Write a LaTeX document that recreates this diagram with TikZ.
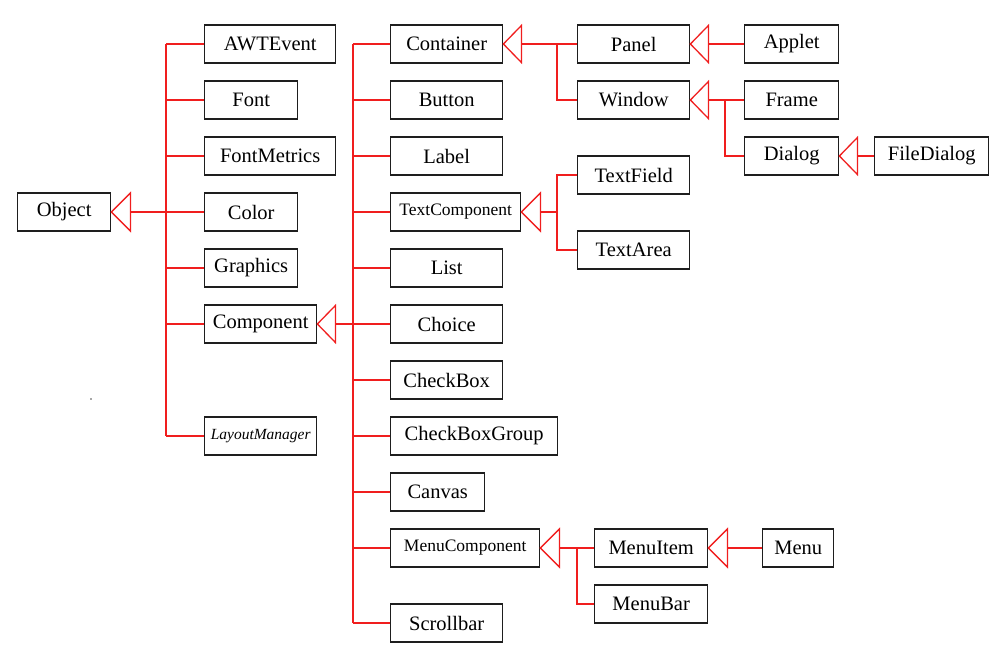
\documentclass[tikz,border=0pt]{standalone}
\usepackage{fontspec}
\setmainfont{Liberation Serif}
\usetikzlibrary{calc}
\definecolor{lred}{RGB}{240,30,30}
\definecolor{bbox}{RGB}{30,30,30}
\tikzset{
  box/.style={draw=bbox, line width=1.4pt, minimum height=38pt, inner sep=0pt, anchor=west, font=\fontsize{20.5}{24}\selectfont},
  sbox/.style={box, font=\fontsize{17.5}{20}\selectfont},
  conn/.style={draw=lred, line width=1.3pt},
  tri/.style={draw=lred, line width=1.3pt, line join=miter}
}
\begin{document}
\begin{tikzpicture}[x=1pt,y=-1pt]
\useasboundingbox (0,0) rectangle (1002,653);
% column 1
\node[box, minimum width=93pt] (obj) at (17,212) {Object};
% column 2
\node[box, minimum width=131pt] (awt) at (204,44) {AWTEvent};
\node[box, minimum width=93pt] (font) at (204,100) {Font};
\node[box, minimum width=131pt] (fontm) at (204,156) {FontMetrics};
\node[box, minimum width=93pt] (color) at (204,212) {Color};
\node[box, minimum width=93pt] (graphics) at (204,268) {Graphics};
\node[box, minimum width=112pt] (comp) at (204,324) {Component};
\node[box, minimum width=112pt, font=\fontsize{15.5}{18}\selectfont\itshape] (layout) at (204,436) {LayoutManager};
% column 3
\node[box, minimum width=112pt] (container) at (390,44) {Container};
\node[box, minimum width=112pt] (button) at (390,100) {Button};
\node[box, minimum width=112pt] (label) at (390,156) {Label};
\node[sbox, minimum width=130pt] (textc) at (390,212) {TextComponent};
\node[box, minimum width=112pt] (list) at (390,268) {List};
\node[box, minimum width=112pt] (choice) at (390,324) {Choice};
\node[box, minimum width=112pt] (checkbox) at (390,380) {CheckBox};
\node[box, minimum width=167pt] (cbg) at (390,436) {CheckBoxGroup};
\node[box, minimum width=94pt] (canvas) at (390,492) {Canvas};
\node[sbox, minimum width=149pt] (menuc) at (390,548) {MenuComponent};
\node[box, minimum width=112pt] (scroll) at (390,623) {Scrollbar};
% column 4
\node[box, minimum width=112pt] (panel) at (577,44) {Panel};
\node[box, minimum width=112pt] (window) at (577,100) {Window};
\node[box, minimum width=112pt] (textfield) at (577,175) {TextField};
\node[box, minimum width=112pt] (textarea) at (577,250) {TextArea};
\node[box, minimum width=113pt] (menuitem) at (594,548) {MenuItem};
\node[box, minimum width=113pt] (menubar) at (594,604) {MenuBar};
% column 5
\node[box, minimum width=94pt] (applet) at (744,44) {Applet};
\node[box, minimum width=94pt] (frame) at (744,100) {Frame};
\node[box, minimum width=94pt] (dialog) at (744,156) {Dialog};
\node[box, minimum width=71pt] (menu) at (762,548) {Menu};
\node[box, minimum width=114pt] (filedialog) at (874,156) {FileDialog};

% buses
\coordinate (b1) at (166,0);
\coordinate (b2) at (353,0);
\coordinate (b3) at (557,0);
\coordinate (b4) at (725,0);
\coordinate (b5) at (577,0);

% Object group
\draw[tri] (obj.east) -- ++(19,-19) -- ++(0,38) -- cycle;
\draw[conn] ($(obj.east)+(19,0)$) -- (color.west);
\draw[conn] (awt.west -| b1) -- (layout.west -| b1);
\foreach \n in {awt,font,fontm,graphics,comp,layout}
  \draw[conn] (\n.west) -- (\n.west -| b1);

% Component group
\draw[tri] (comp.east) -- ++(18,-18.5) -- ++(0,37) -- cycle;
\draw[conn] ($(comp.east)+(18,0)$) -- (choice.west);
\draw[conn] (container.west -| b2) -- (scroll.west -| b2);
\foreach \n in {container,button,label,textc,list,checkbox,cbg,canvas,menuc,scroll}
  \draw[conn] (\n.west) -- (\n.west -| b2);

% Container group
\draw[tri] (container.east) -- ++(18,-18.5) -- ++(0,37) -- cycle;
\draw[conn] ($(container.east)+(18,0)$) -- (panel.west);
\draw[conn] (panel.west -| b3) -- (window.west -| b3) -- (window.west);

% TextComponent group
\draw[tri] (textc.east) -- ++(19,-19) -- ++(0,38) -- cycle;
\draw[conn] ($(textc.east)+(19,0)$) -- (textc.east -| b3);
\draw[conn] (textfield.west) -- (textfield.west -| b3) -- (textarea.west -| b3) -- (textarea.west);

% Panel -> Applet
\draw[tri] (panel.east) -- ++(18,-18.5) -- ++(0,37) -- cycle;
\draw[conn] ($(panel.east)+(18,0)$) -- (applet.west);

% Window group
\draw[tri] (window.east) -- ++(18,-18.5) -- ++(0,37) -- cycle;
\draw[conn] ($(window.east)+(18,0)$) -- (frame.west);
\draw[conn] (frame.west -| b4) -- (dialog.west -| b4) -- (dialog.west);

% Dialog -> FileDialog
\draw[tri] (dialog.east) -- ++(18,-18.5) -- ++(0,37) -- cycle;
\draw[conn] ($(dialog.east)+(18,0)$) -- (filedialog.west);

% MenuComponent group
\draw[tri] (menuc.east) -- ++(19,-19) -- ++(0,38) -- cycle;
\draw[conn] ($(menuc.east)+(19,0)$) -- (menuitem.west);
\draw[conn] (menuitem.west -| b5) -- (menubar.west -| b5) -- (menubar.west);

% MenuItem -> Menu
\draw[tri] (menuitem.east) -- ++(19,-19) -- ++(0,38) -- cycle;
\draw[conn] ($(menuitem.east)+(19,0)$) -- (menu.west);

% stray dot
\fill[black!70] (91,399) circle (0.8);
\end{tikzpicture}
\end{document}
